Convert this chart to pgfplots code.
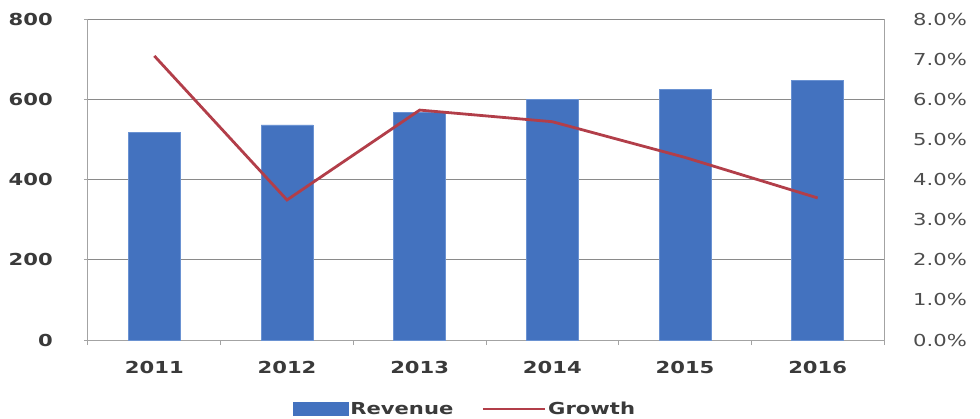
\documentclass[border=0pt]{standalone}
\usepackage{fontspec}
\setmainfont{DejaVu Sans}[FakeStretch=1.28]
\usepackage{pgfplots}
\pgfplotsset{compat=1.18}
\definecolor{barblue}{HTML}{4372BF}
\definecolor{baredge}{HTML}{6A92D2}
\definecolor{linered}{HTML}{B23E49}
\definecolor{gridgray}{HTML}{8A8A8A}
\definecolor{axgray}{HTML}{A3A3A3}
\definecolor{labgray}{HTML}{3A3A3A}
\definecolor{rlabgray}{HTML}{4E4E4E}
\begin{document}
\begin{tikzpicture}
\useasboundingbox (0pt,0pt) rectangle (980pt,418pt);
\pgfplotsset{
  base/.style={
    scale only axis, width=796pt, height=321pt,
    at={(88pt,78pt)}, anchor=south west,
    xmin=-0.5, xmax=5.5,
    font=\fontsize{16.5}{18}\selectfont,
  }
}
\begin{axis}[base,
  ymin=0, ymax=800,
  axis x line*=bottom, axis y line*=left,
  axis line style={axgray, line width=1pt},
  ytick={0,200,400,600,800},
  yticklabels={0,200,400,600,800},
  yticklabel style={inner sep=0pt, xshift=-31pt, font=\fontsize{16.5}{18}\selectfont\bfseries, text=labgray},
  ymajorgrids, grid style={gridgray, line width=0.9pt},
  xtick={0,1,2,3,4,5},
  xticklabels={2011,2012,2013,2014,2015,2016},
  xticklabel style={inner sep=0pt, anchor=north, yshift=-17pt, font=\fontsize{16.5}{18}\selectfont\bfseries, text=labgray},
  major x tick style={draw=none},
  minor xtick={-0.5,0.5,1.5,2.5,3.5,4.5,5.5},
  minor x tick style={axgray, line width=1pt},
  minor tick length=5pt,
  major y tick style={axgray, line width=1pt},
  major tick length=4pt,
  tick align=outside,
  ybar, bar width=52pt,
]
\addplot[fill=barblue, draw=baredge, line width=0.8pt] coordinates {
  (0,517) (1,536) (2,566) (3,600) (4,625) (5,646)
};
\end{axis}
\begin{axis}[base,
  ymin=0, ymax=8,
  axis x line=none, axis y line*=right,
  axis line style={axgray, line width=1pt},
  ytick={0,1,2,3,4,5,6,7,8},
  yticklabels={0.0\%,1.0\%,2.0\%,3.0\%,4.0\%,5.0\%,6.0\%,7.0\%,8.0\%},
  yticklabel style={inner sep=0pt, anchor=west, xshift=29pt, font=\fontsize{16.5}{18}\selectfont, text=rlabgray},
  major tick length=0pt,
  legend style={at={(0.4736,-0.215)}, anchor=center, draw=none, fill=none,
    legend columns=2, font=\fontsize{16.5}{18}\selectfont\bfseries, text=labgray,
    /tikz/every even column/.append style={column sep=26pt},
    inner sep=0pt},
  legend cell align=left,
]
\addlegendimage{legend image code/.code={\fill[barblue] (0pt,-6.5pt) rectangle (55pt,6.5pt);}}
\addlegendentry{Revenue}
\addplot[linered, line width=2.8pt, mark=none,
  legend image code/.code={\draw[linered, line width=2.8pt] (0pt,0pt) -- (62pt,0pt);}] coordinates {
  (0,7.08) (1,3.49) (2,5.73) (3,5.44) (4,4.55) (5,3.54)
};
\addlegendentry{Growth}
\end{axis}
\end{tikzpicture}
\end{document}
